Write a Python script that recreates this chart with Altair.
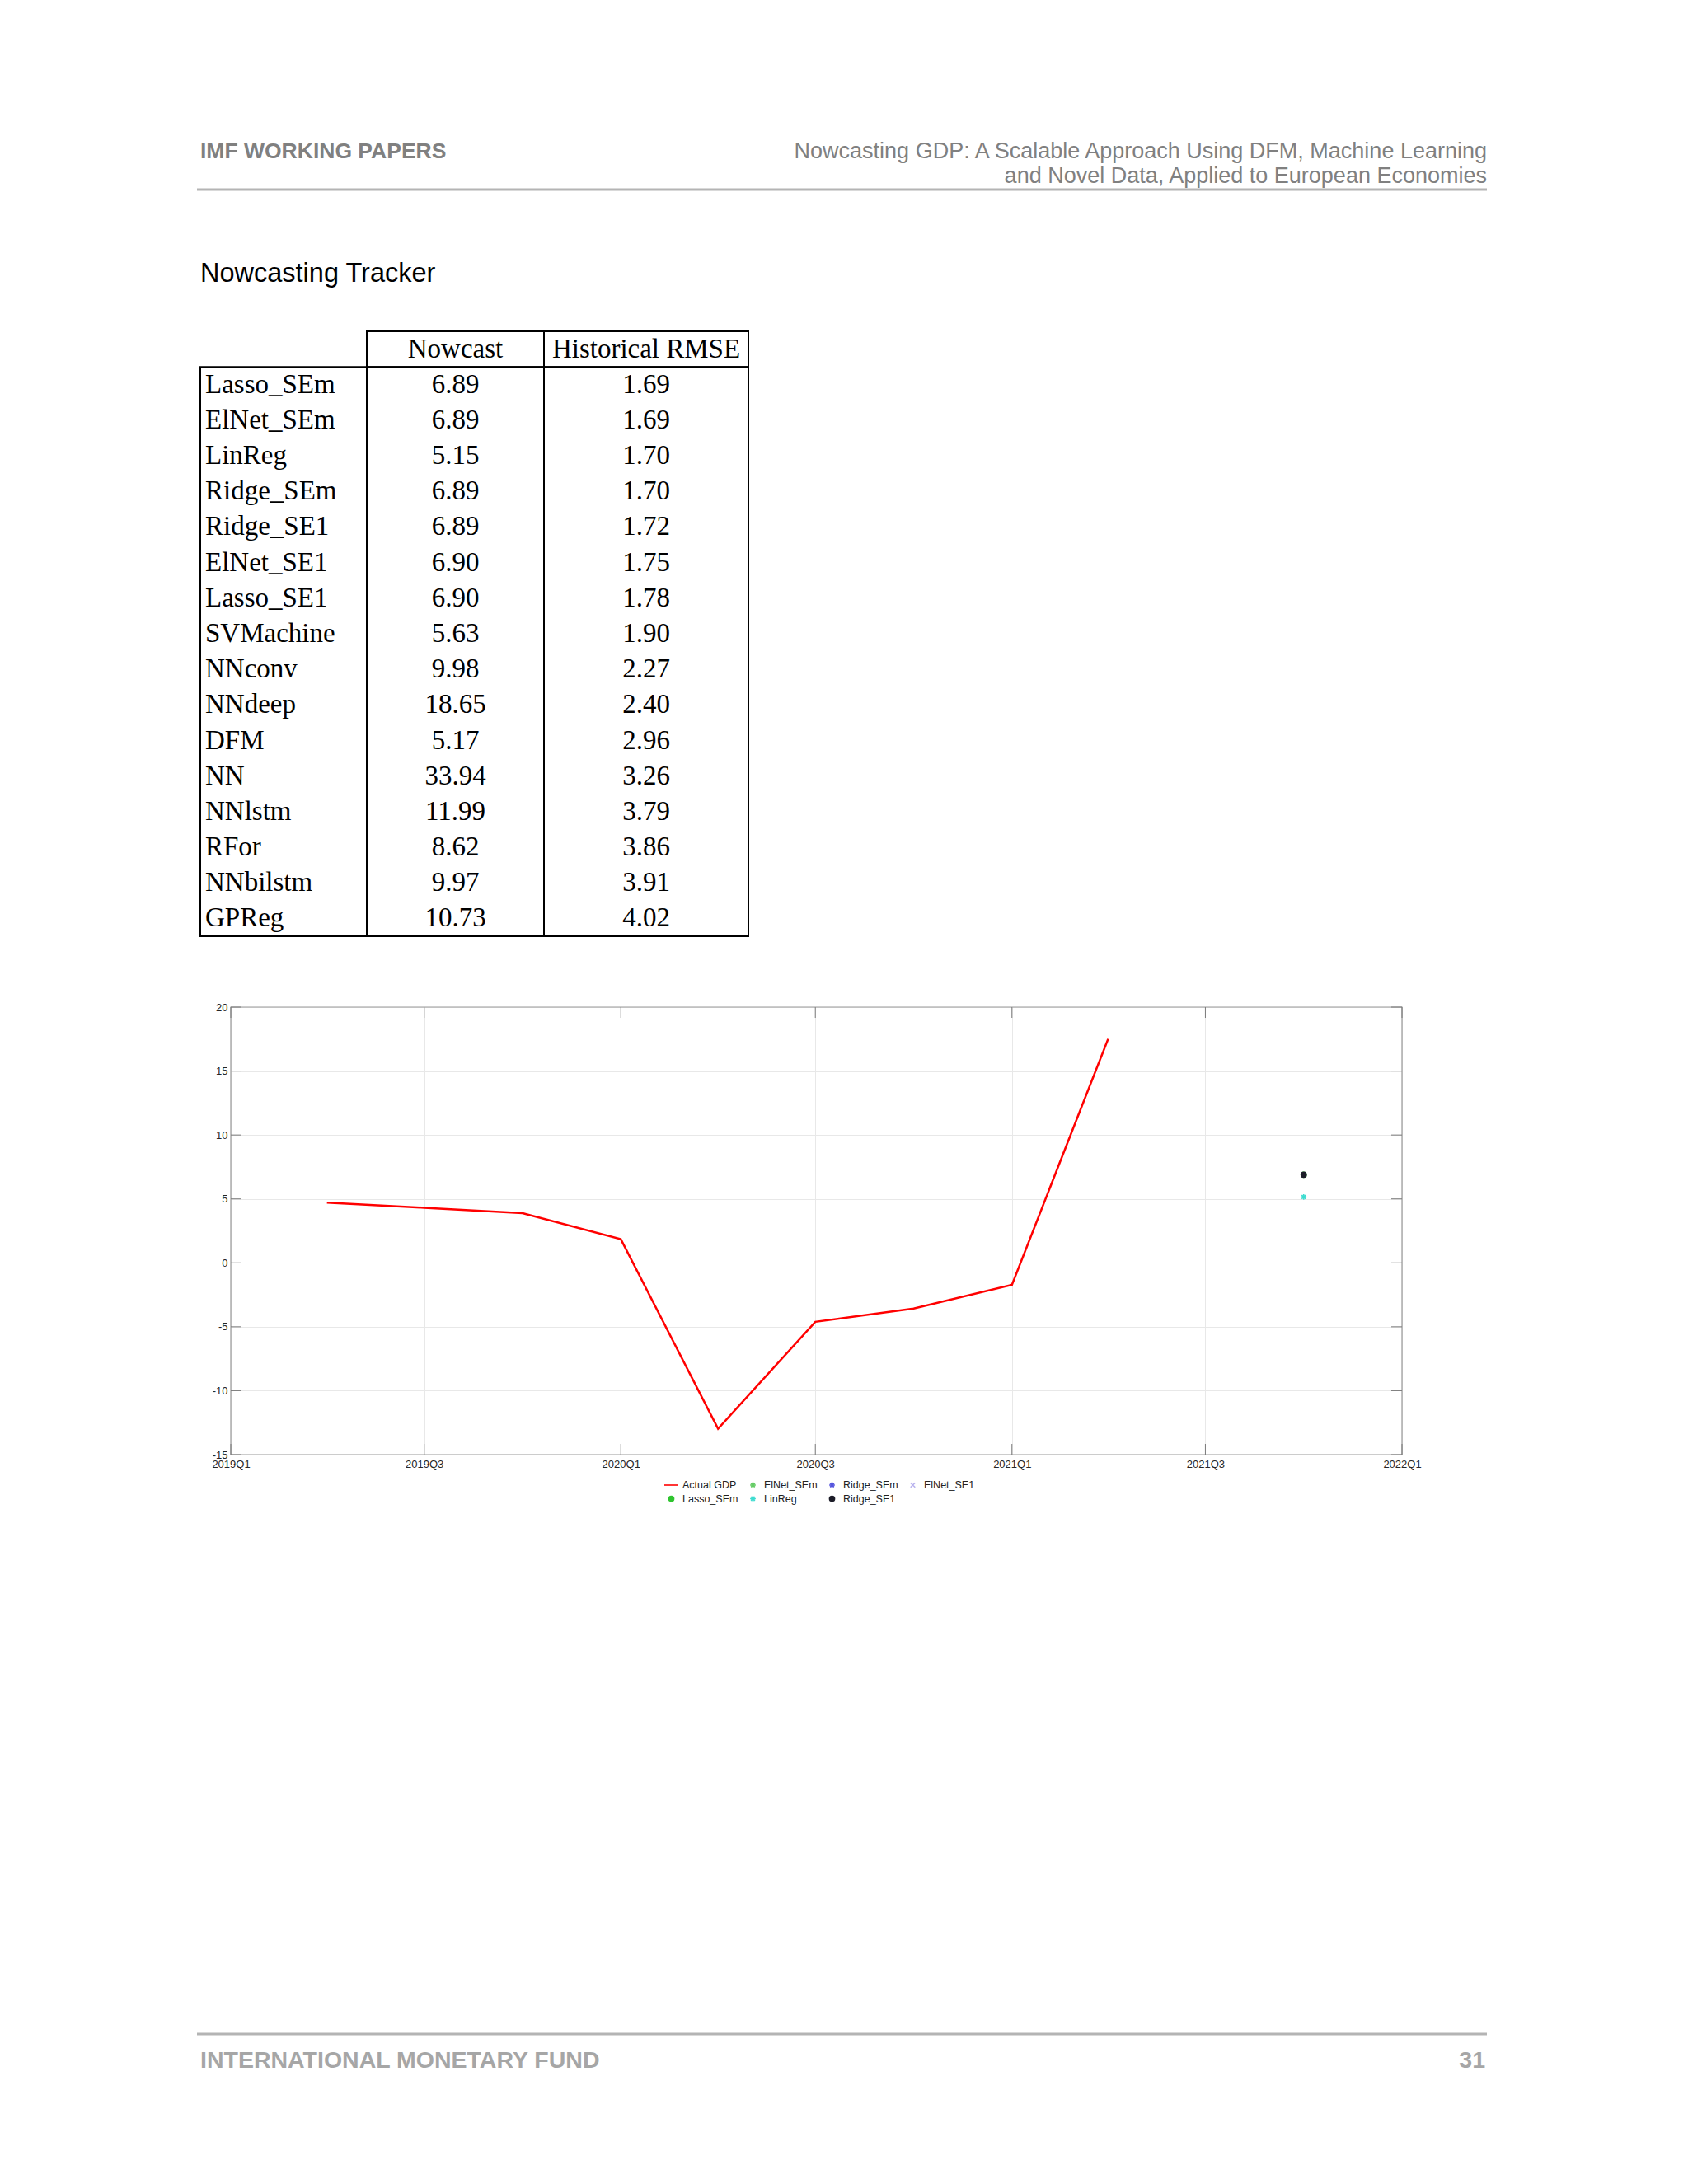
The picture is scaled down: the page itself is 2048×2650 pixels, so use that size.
import altair as alt
import pandas as pd

# ------------------------------------------------------------------ data
HEADER_LEFT = "IMF WORKING PAPERS"
HEADER_RIGHT_1 = "Nowcasting GDP: A Scalable Approach Using DFM, Machine Learning"
HEADER_RIGHT_2 = "and Novel Data, Applied to European Economies"
SECTION_TITLE = "Nowcasting Tracker"
FOOTER_LEFT = "INTERNATIONAL MONETARY FUND"
FOOTER_RIGHT = "31"

TABLE_HEADERS = ["", "Nowcast", "Historical RMSE"]
MODELS = ["Lasso_SEm", "ElNet_SEm", "LinReg", "Ridge_SEm", "Ridge_SE1", "ElNet_SE1",
          "Lasso_SE1", "SVMachine", "NNconv", "NNdeep", "DFM", "NN", "NNlstm",
          "RFor", "NNbilstm", "GPReg"]
NOWCAST = [6.89, 6.89, 5.15, 6.89, 6.89, 6.90, 6.90, 5.63, 9.98, 18.65, 5.17,
           33.94, 11.99, 8.62, 9.97, 10.73]
RMSE = [1.69, 1.69, 1.70, 1.70, 1.72, 1.75, 1.78, 1.90, 2.27, 2.40, 2.96, 3.26,
        3.79, 3.86, 3.91, 4.02]

GDP_QUARTERS = ["2019Q2", "2019Q3", "2019Q4", "2020Q1", "2020Q2", "2020Q3",
                "2020Q4", "2021Q1", "2021Q2"]
GDP_VALUES = [4.70, 4.31, 3.89, 1.85, -12.98, -4.61, -3.57, -1.72, 17.51]

NOWCAST_QUARTER = "2021Q4"
POINT_MODELS = ["Lasso_SEm", "ElNet_SEm", "Ridge_SEm", "ElNet_SE1", "LinReg", "Ridge_SE1"]
POINT_VALUES = [6.89, 6.89, 6.89, 6.90, 5.15, 6.89]

LEGEND_ORDER = ["Actual GDP", "ElNet_SEm", "Ridge_SEm", "ElNet_SE1",
                "Lasso_SEm", "LinReg", "Ridge_SE1"]
LEGEND_COLORS = ["#ff0000", "#66cc66", "#5555dd", "#b8b2ee",
                 "#2fc42f", "#3edcd0", "#1c1c28"]
LEGEND_SHAPES = [
    "M-1,0H1",
    "M-0.4,0H0.4M0,-0.4V0.4M-0.28,-0.28L0.28,0.28M-0.28,0.28L0.28,-0.28",
    "M-0.4,0H0.4M0,-0.4V0.4M-0.28,-0.28L0.28,0.28M-0.28,0.28L0.28,-0.28",
    "M-0.33,-0.33L0.33,0.33M-0.33,0.33L0.33,-0.33",
    "M-0.36,0A0.36,0.36 0 1,0 0.36,0A0.36,0.36 0 1,0 -0.36,0Z",
    "M-0.4,0H0.4M0,-0.4V0.4M-0.28,-0.28L0.28,0.28M-0.28,0.28L0.28,-0.28",
    "M-0.36,0A0.36,0.36 0 1,0 0.36,0A0.36,0.36 0 1,0 -0.36,0Z",
]

X_TICKS = ["2019Q1", "2019Q3", "2020Q1", "2020Q3", "2021Q1", "2021Q3", "2022Q1"]
Y_TICKS = [-15, -10, -5, 0, 5, 10, 15, 20]

# ------------------------------------------------------------------ style
SANS = "Liberation Sans"
SERIF = "Liberation Serif"
GRAY = "#808080"
PAGE_W = 1565
COL_W = [202, 215, 248]
ROW_H = 43.2
PLOT_W, PLOT_H = 1421, 543
TICK_LEN = 13
TICK_COLOR = "#7a7a7a"
FRAME_COLOR = "#9a9a9a"


def one():
    return pd.DataFrame({"k": [0]})


def label(text, x, y, size, weight="normal", align="left", color=GRAY, font=SANS):
    return alt.Chart(pd.DataFrame({"t": [text]})).mark_text(
        align=align, baseline="alphabetic", fontSize=size, fontWeight=weight,
        color=color, font=font
    ).encode(text="t:N", x=alt.value(x), y=alt.value(y))


def spacer(w, h):
    return alt.Chart(one()).mark_point(opacity=0).properties(width=w, height=h)


# ------------------------------------------------------------------ header
header_rule = alt.Chart(one()).mark_rule(color="#b4b4b4", strokeWidth=3).encode(
    x=alt.value(0), x2=alt.value(PAGE_W), y=alt.value(69))
header = alt.layer(
    header_rule,
    label(HEADER_LEFT, 4, 31, 26.5, weight="bold"),
    label(HEADER_RIGHT_1, PAGE_W, 31, 27, align="right"),
    label(HEADER_RIGHT_2, PAGE_W, 61, 27, align="right"),
    label(SECTION_TITLE, 4, 181, 32.5, color="#000000"),
).properties(width=PAGE_W, height=238)

# ------------------------------------------------------------------ table
tbl = pd.DataFrame({"model": MODELS, "nowcast": NOWCAST, "rmse": RMSE})
tbl["row"] = list(range(1, len(MODELS) + 1))
n_rows = len(MODELS) + 1
yscale = alt.Scale(domain=[0, n_rows], reverse=True, nice=False, zero=False)


def table_column(i, field, fmt):
    w = COL_W[i]
    base_y = alt.Y("yc:Q", scale=yscale, axis=None)
    if i == 0:
        txt = alt.Chart(tbl).transform_calculate(yc="datum.row + 0.5").mark_text(
            align="left", baseline="middle", font=SERIF, fontSize=33, color="black"
        ).encode(x=alt.value(6), y=base_y, text=f"{field}:N")
    else:
        txt = alt.Chart(tbl).transform_calculate(yc="datum.row + 0.5").mark_text(
            align="center", baseline="middle", font=SERIF, fontSize=33, color="black"
        ).encode(x=alt.value(w / 2), y=base_y, text=alt.Text(f"{field}:Q", format=fmt))
    body = alt.Chart(one()).mark_rect(fill="transparent", stroke="black", strokeWidth=2).encode(
        x=alt.value(0), x2=alt.value(w),
        y=alt.Y(datum=1, scale=yscale, axis=None), y2=alt.datum(n_rows))
    layers = [body, txt]
    if TABLE_HEADERS[i]:
        head_box = alt.Chart(one()).mark_rect(fill="transparent", stroke="black", strokeWidth=2).encode(
            x=alt.value(0), x2=alt.value(w),
            y=alt.Y(datum=0, scale=yscale, axis=None), y2=alt.datum(1))
        head_txt = alt.Chart(pd.DataFrame({"t": [TABLE_HEADERS[i]]})).mark_text(
            align="center", baseline="middle", font=SERIF, fontSize=33, color="black"
        ).encode(x=alt.value(w / 2), y=alt.Y(datum=0.5, scale=yscale, axis=None), text="t:N")
        layers += [head_box, head_txt]
    return alt.layer(*layers).properties(width=w, height=round(ROW_H * n_rows))


table_row = alt.hconcat(
    spacer(4, round(ROW_H * n_rows)),
    table_column(0, "model", ""),
    table_column(1, "nowcast", ".2f"),
    table_column(2, "rmse", ".2f"),
    spacing=0, bounds="flush",
)

# ------------------------------------------------------------------ line chart
gdp_df = pd.DataFrame({"date": [pd.Period(q, freq="Q").start_time for q in GDP_QUARTERS],
                       "value": GDP_VALUES})
pts_df = pd.DataFrame({
    "date": [pd.Period(NOWCAST_QUARTER, freq="Q").start_time] * len(POINT_MODELS),
    "model": POINT_MODELS, "value": POINT_VALUES})
xt_df = pd.DataFrame({"date": [pd.Period(q, freq="Q").start_time for q in X_TICKS]})
yt_df = pd.DataFrame({"value": Y_TICKS})

x_ticks = [alt.DateTime(year=int(q[:4]), quarter=int(q[-1])) for q in X_TICKS]
xscale = alt.Scale(domain=[x_ticks[0], x_ticks[-1]], nice=False)
yscale_l = alt.Scale(domain=[-15, 20], nice=False)

x_axis = alt.Axis(values=x_ticks, format="%YQ%q", title=None, grid=True,
                  gridColor="#e8e8e8", domain=False, tickSize=0, labelPadding=5,
                  labelFlush=False, labelOverlap=False, labelFont=SANS,
                  labelFontSize=13, labelColor="#262626")
y_axis = alt.Axis(values=Y_TICKS, title=None, grid=True, gridColor="#e8e8e8",
                  domain=False, tickSize=0, labelPadding=4, labelFont=SANS,
                  labelFontSize=13, labelColor="#262626",
                  labelExpr="datum.value + ''")
x_enc = alt.X("date:T", scale=xscale, axis=x_axis)
y_enc = alt.Y("value:Q", scale=yscale_l, axis=y_axis)

gdp_line = alt.Chart(gdp_df).mark_line(color="#ff0000", strokeWidth=2.5).encode(x=x_enc, y=y_enc)

# inward tick marks on all four sides (MATLAB style)
y_ticks_left = alt.Chart(yt_df).mark_rule(color=TICK_COLOR, strokeWidth=1).encode(
    y=y_enc, x=alt.value(0), x2=alt.value(TICK_LEN))
y_ticks_right = alt.Chart(yt_df).mark_rule(color=TICK_COLOR, strokeWidth=1).encode(
    y=y_enc, x=alt.value(PLOT_W - TICK_LEN), x2=alt.value(PLOT_W))
x_ticks_bottom = alt.Chart(xt_df).mark_rule(color=TICK_COLOR, strokeWidth=1).encode(
    x=x_enc, y=alt.value(PLOT_H - TICK_LEN), y2=alt.value(PLOT_H))
x_ticks_top = alt.Chart(xt_df).mark_rule(color=TICK_COLOR, strokeWidth=1).encode(
    x=x_enc, y=alt.value(0), y2=alt.value(TICK_LEN))

# axes box drawn above the grid
frame = alt.Chart(one()).mark_rect(fill="transparent", stroke=FRAME_COLOR, strokeWidth=1.2).encode(
    x=alt.value(0), x2=alt.value(PLOT_W), y=alt.value(0), y2=alt.value(PLOT_H))

# legends in a concatenated page are placed relative to the page origin
leg = alt.Legend(title=None, orient="none", legendX=566, legendY=1631, columns=4,
                 direction="horizontal", symbolSize=289, symbolStrokeWidth=1.6,
                 labelFont=SANS, labelFontSize=12.5, labelColor="#222222",
                 columnPadding=8, rowPadding=0, labelOffset=4, padding=0,
                 symbolOpacity=1)
pts = alt.Chart(pts_df).mark_point(filled=True, size=289, strokeWidth=1.6, opacity=1).encode(
    x=x_enc, y=y_enc,
    fill=alt.Fill("model:N", scale=alt.Scale(domain=LEGEND_ORDER, range=LEGEND_COLORS), legend=leg),
    stroke=alt.Stroke("model:N", scale=alt.Scale(domain=LEGEND_ORDER, range=LEGEND_COLORS), legend=leg),
    shape=alt.Shape("model:N", scale=alt.Scale(domain=LEGEND_ORDER, range=LEGEND_SHAPES), legend=leg),
)

line_chart = alt.layer(
    gdp_line, frame, y_ticks_left, y_ticks_right, x_ticks_bottom, x_ticks_top, pts
).properties(width=PLOT_W, height=PLOT_H)

line_row = alt.hconcat(spacer(41, 1226), line_chart, spacing=0, bounds="flush")

# ------------------------------------------------------------------ footer
footer_rule = alt.Chart(one()).mark_rule(color="#b4b4b4", strokeWidth=3).encode(
    x=alt.value(0), x2=alt.value(PAGE_W), y=alt.value(19))
footer = alt.layer(
    footer_rule,
    label(FOOTER_LEFT, 4, 60, 28.5, weight="bold", color="#a6a6a6"),
    label(FOOTER_RIGHT, PAGE_W - 2, 60, 28.5, weight="bold", align="right", color="#a6a6a6"),
).properties(width=PAGE_W, height=80)

gap = spacer(4, 77)

chart = alt.vconcat(header, table_row, gap, line_row, footer, spacing=0).properties(
    padding={"left": 229, "top": 152, "right": 20, "bottom": 20},
    background="white",
).configure_view(stroke="transparent")

chart.save("out.html", embed_options={"renderer": "svg", "actions": False})
